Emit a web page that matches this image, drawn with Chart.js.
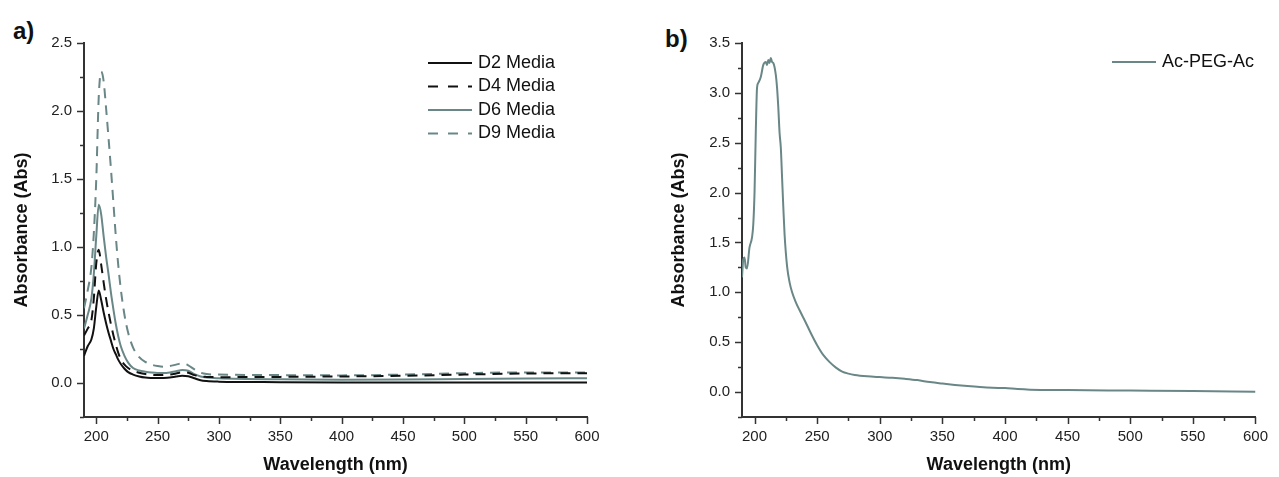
<!DOCTYPE html>
<html>
<head>
<meta charset="utf-8">
<script src="https://cdn.jsdelivr.net/npm/chart.js@4.4.0/dist/chart.umd.min.js"></script>
<style>
  body { margin: 0; background: #fff; width: 1279px; height: 477px; overflow: hidden; position: relative;
         font-family: "Liberation Sans", Arial, sans-serif; }
  canvas { position: absolute; top: 0; }
  #chartA { left: 0; }
  #chartB { left: 640px; }
  .panel { position: absolute; font-weight: bold; font-size: 24px; line-height: 24px; color: #111; }
</style>
</head>
<body>
<div class="panel" style="left:13px; top:19px">a)</div>
<div class="panel" style="left:665px; top:27px">b)</div>
<canvas id="chartA" width="640" height="477"></canvas>
<canvas id="chartB" width="639" height="477"></canvas>
<script>
// panel a) - media spectra
const wlA = [190,193,196,198,200,202,204,206,208,210,212,214,216,218,220,223,226,230,235,240,
             245,250,255,260,265,270,275,280,285,290,300,350,400,450,500,550,600];
const d2Media = [0.20,0.27,0.32,0.40,0.56,0.68,0.61,0.52,0.44,0.37,0.31,0.25,0.21,0.17,0.14,0.105,0.08,0.062,0.048,0.04,
                 0.037,0.036,0.037,0.04,0.047,0.053,0.05,0.035,0.02,0.014,0.01,0.006,0.004,0.004,0.004,0.004,0.004];
const d4Media = [0.35,0.40,0.46,0.62,0.88,0.98,0.87,0.74,0.62,0.52,0.43,0.35,0.28,0.22,0.175,0.135,0.11,0.09,0.076,0.066,
                 0.06,0.058,0.059,0.063,0.07,0.078,0.075,0.058,0.048,0.045,0.043,0.045,0.048,0.053,0.062,0.07,0.072];
const d6Media = [0.40,0.50,0.62,0.80,1.08,1.31,1.24,1.08,0.93,0.80,0.66,0.54,0.43,0.34,0.27,0.20,0.15,0.11,0.092,0.083,
                 0.077,0.074,0.074,0.078,0.086,0.095,0.09,0.065,0.048,0.04,0.035,0.027,0.024,0.026,0.03,0.033,0.035];
const d9Media = [0.55,0.68,0.85,1.10,1.50,2.10,2.29,2.22,2.02,1.80,1.57,1.32,1.07,0.86,0.69,0.50,0.37,0.26,0.19,0.155,
                 0.135,0.125,0.12,0.125,0.135,0.145,0.13,0.10,0.076,0.066,0.062,0.058,0.056,0.062,0.072,0.078,0.078];

// panel b) - Ac-PEG-Ac
const wlB = [190,191,192,193,194,196,198,199,200,201,202,203,205,207,209,210,211,212,213,214,215,217,218,219,220,
             221,222,223,224,226,228,230,233,236,240,245,250,255,260,265,270,275,280,290,300,310,320,330,340,350,
             360,370,380,390,400,410,420,450,500,550,600];
const acPegAc = [1.15,1.33,1.35,1.25,1.24,1.45,1.55,1.68,2.0,2.6,3.05,3.1,3.16,3.28,3.31,3.28,3.33,3.3,3.35,3.31,3.3,3.18,3.05,2.85,2.6,
                 2.45,2.15,1.85,1.58,1.26,1.1,1.0,0.9,0.82,0.72,0.59,0.47,0.37,0.3,0.245,0.205,0.185,0.172,0.158,0.15,0.143,0.133,0.12,0.1,0.085,
                 0.072,0.06,0.05,0.043,0.04,0.03,0.024,0.02,0.015,0.01,0.004];

// tick positions (labels only on the major ones)
const xTicks = [200,225,250,275,300,325,350,375,400,425,450,475,500,525,550,575,600];
const yTicksA = [-0.25,0,0.25,0.5,0.75,1,1.25,1.5,1.75,2,2.25,2.5];
const yTicksB = [-0.25,0,0.25,0.5,0.75,1,1.25,1.5,1.75,2,2.25,2.5,2.75,3,3.25,3.5];

const black = '#111111';
const teal = '#6a8787';
const axisColor = '#333333';
const fontFamily = '"Liberation Sans", Arial, sans-serif';

function pts(xs, ys) {
        return xs.map((x, i) => ({x: x, y: ys[i]}));
}

function series(label, xs, ys, color, dashed) {
        return {
                label: label,
                data: pts(xs, ys),
                borderColor: color,
                borderWidth: 2,
                borderDash: dashed ? [10, 7] : [],
                pointRadius: 0,
                cubicInterpolationMode: 'monotone',
                fill: false
        };
}

// outward tick marks, long for labelled ticks, short for the others
const tickMarks = {
        id: 'tickMarks',
        afterDraw(chart) {
                const ctx = chart.ctx, a = chart.chartArea;
                const sx = chart.scales.x, sy = chart.scales.y;
                ctx.save();
                ctx.strokeStyle = axisColor;
                ctx.lineWidth = 1.5;
                sx.ticks.forEach(t => {
                        const p = Math.round(sx.getPixelForValue(t.value)) + 0.5;
                        ctx.beginPath();
                        ctx.moveTo(p, a.bottom);
                        ctx.lineTo(p, a.bottom + (t.label ? 7 : 4));
                        ctx.stroke();
                });
                sy.ticks.forEach(t => {
                        const p = Math.round(sy.getPixelForValue(t.value)) + 0.5;
                        ctx.beginPath();
                        ctx.moveTo(a.left, p);
                        ctx.lineTo(a.left - (t.label ? 7 : 4), p);
                        ctx.stroke();
                });
                ctx.restore();
        }
};

// legend drawn as line samples with the dataset styles
const lineLegend = {
        id: 'lineLegend',
        afterDraw(chart, args, opts) {
                const ctx = chart.ctx;
                ctx.save();
                ctx.font = '18px ' + fontFamily;
                ctx.textBaseline = 'middle';
                ctx.fillStyle = '#111';
                chart.data.datasets.forEach((ds, i) => {
                        const y = opts.y + i * opts.rowHeight;
                        ctx.strokeStyle = ds.borderColor;
                        ctx.lineWidth = ds.borderWidth;
                        ctx.setLineDash(ds.borderDash.length ? [10, 10] : []);
                        ctx.beginPath();
                        ctx.moveTo(opts.x, y);
                        ctx.lineTo(opts.x + 44, y);
                        ctx.stroke();
                        ctx.setLineDash([]);
                        ctx.fillText(ds.label, opts.x + 50, y);
                });
                ctx.restore();
        }
};

function makeChart(id, datasets, yMax, yTicks, area, legendAt, yTitlePad) {
        const canvas = document.getElementById(id);
        const W = canvas.width, H = canvas.height;
        const isMajorY = v => Math.abs(v * 2 - Math.round(v * 2)) < 1e-9;
        return new Chart(canvas.getContext('2d'), {
                type: 'line',
                data: {datasets: datasets},
                plugins: [tickMarks, lineLegend],
                options: {
                        responsive: false,
                        animation: false,
                        devicePixelRatio: 1,
                        layout: {padding: {left: 0, top: area.top, right: W - area.right, bottom: 0}},
                        plugins: {
                                legend: {display: false},
                                tooltip: {enabled: false},
                                lineLegend: legendAt
                        },
                        scales: {
                                x: {
                                        type: 'linear',
                                        min: 190,
                                        max: 600,
                                        afterFit: s => { s.height = H - area.bottom; },
                                        afterBuildTicks: s => { s.ticks = xTicks.map(v => ({value: v})); },
                                        grid: {display: false, drawTicks: false},
                                        border: {display: true, color: axisColor, width: 2},
                                        ticks: {
                                                autoSkip: false,
                                                maxRotation: 0,
                                                padding: 11,
                                                color: '#222',
                                                font: {family: fontFamily, size: 15},
                                                callback: v => (v % 50 === 0 ? String(v) : '')
                                        },
                                        title: {
                                                display: true,
                                                text: 'Wavelength (nm)',
                                                color: '#111',
                                                font: {family: fontFamily, size: 18, weight: 'bold'},
                                                padding: {top: 0, bottom: 1}
                                        }
                                },
                                y: {
                                        min: -0.25,
                                        max: yMax,
                                        afterFit: s => { s.width = area.left; },
                                        afterBuildTicks: s => { s.ticks = yTicks.map(v => ({value: v})); },
                                        grid: {display: false, drawTicks: false},
                                        border: {display: true, color: axisColor, width: 2},
                                        ticks: {
                                                autoSkip: false,
                                                padding: 12,
                                                color: '#222',
                                                font: {family: fontFamily, size: 15},
                                                callback: v => (isMajorY(v) && v >= 0 ? v.toFixed(1) : '')
                                        },
                                        title: {
                                                display: true,
                                                text: 'Absorbance (Abs)',
                                                color: '#111',
                                                font: {family: fontFamily, size: 18, weight: 'bold'},
                                                padding: {top: yTitlePad, bottom: 0}
                                        }
                                }
                        }
                }
        });
}

makeChart('chartA', [
        series('D2 Media', wlA, d2Media, black, false),
        series('D4 Media', wlA, d4Media, black, true),
        series('D6 Media', wlA, d6Media, teal, false),
        series('D9 Media', wlA, d9Media, teal, true)
], 2.5, yTicksA, {left: 84, top: 43, right: 587, bottom: 417}, {x: 428, y: 63, rowHeight: 23.5}, 11);

makeChart('chartB', [
        series('Ac-PEG-Ac', wlB, acPegAc, teal, false)
], 3.5, yTicksB, {left: 102, top: 43, right: 622, bottom: 417}, {x: 472, y: 62, rowHeight: 23.5}, 28);
</script>
</body>
</html>
